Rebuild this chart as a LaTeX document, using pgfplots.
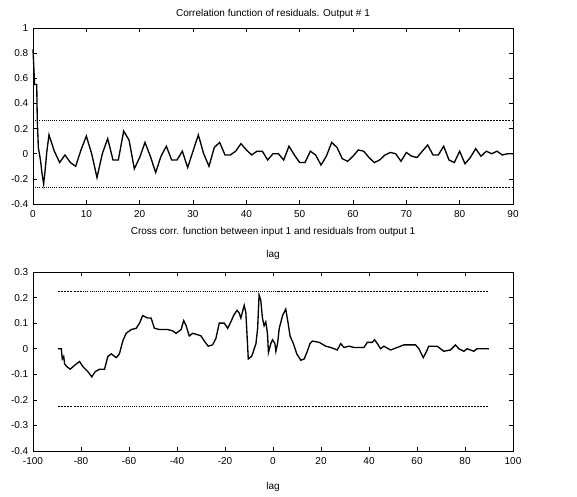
\documentclass[border=0pt]{standalone}
\usepackage{pgfplots}
\pgfplotsset{compat=1.18}
\usetikzlibrary{calc}
\usepackage{fontspec}
\setmainfont{Liberation Sans}
\begin{document}
\begin{tikzpicture}[font=\fontsize{7.5}{9}\selectfont]
\pgfplotsset{
  every axis/.append style={
    scale only axis,
    axis line style={line width=0.6pt},
    tick style={line width=0.5pt, black},
    major tick length=3pt,
    tick align=inside,
    xtick pos=both, ytick pos=both,
    tick label style={font=\fontsize{7.5}{9}\selectfont},
    xticklabel style={yshift=-1pt},
    /pgf/number format/assume math mode=true,
    clip=false,
  },
  resid/.style={black, line width=1pt, mark=none},
  band/.style={black, line width=0.6pt, densely dotted, mark=none},
  bandd/.style={black, line width=0.6pt, dash pattern=on 1.5pt off 0.8pt, mark=none},
}
% ---- top: auto correlation of residuals
\begin{axis}[name=top, at={(0,0)}, anchor=south west,
  width=360pt, height=132pt,
  xmin=0, xmax=90, ymin=-0.4, ymax=1,
  xtick={0,10,...,90}, ytick={-0.4,-0.2,0,0.2,0.4,0.6,0.8,1},
]
\addplot[band] coordinates {(0,0.265) (65,0.265)};
\addplot[bandd] coordinates {(65,0.265) (90,0.265)};
\addplot[band] coordinates {(0,-0.27) (65,-0.27)};
\addplot[bandd] coordinates {(65,-0.27) (90,-0.27)};
\addplot[resid] coordinates {
(0,0.83) (0.3,0.55) (0.7,0.55) (0.8,0.27) (1,0.05) (1.4,-0.05) (1.7,-0.16) (2,-0.24) (2.3,-0.12)
(2.6,0.02) (3,0.15) (4,0.02) (5,-0.07) (6,-0.01) (7,-0.07) (8,-0.10) (9,0.03)
(10,0.14) (11,0.0) (12,-0.19) (13,0.0) (14,0.12) (15,-0.05) (16,-0.05) (17,0.18)
(18,0.11) (19,-0.12) (20,-0.03) (21,0.09) (22,-0.02) (23,-0.15) (24,-0.02) (25,0.06)
(26,-0.05) (27,-0.05) (28,0.02) (29,-0.11) (30,0.02) (31,0.15) (32,0.0) (33,-0.10)
(34,0.05) (35,0.09) (36,-0.01) (37,-0.01) (38,0.02) (39,0.08) (40,0.03) (41,-0.01)
(42,0.02) (43,0.02) (44,-0.05) (45,0.0) (46,0.0) (47,-0.05) (48,0.06) (49,-0.01)
(50,-0.07) (51,-0.07) (52,0.02) (53,-0.01) (54,-0.09) (55,-0.02) (56,0.09) (57,0.05)
(58,-0.04) (59,-0.06) (60,-0.02) (61,0.03) (62,0.02) (63,-0.03) (64,-0.07) (65,-0.05)
(66,-0.01) (67,0.01) (68,0.0) (69,-0.06) (70,0.01) (71,-0.02) (72,-0.03) (73,0.02)
(74,0.07) (75,-0.01) (76,-0.01) (77,0.06) (78,-0.05) (79,-0.07) (80,0.02) (81,-0.08)
(82,-0.03) (83,0.04) (84,-0.02) (85,0.02) (86,0.0) (87,0.02) (88,-0.01) (89,0.0) (90,0.0)
};
\end{axis}
\node at ($(top.north)+(0,10.5pt)$) {Correlation function of residuals. Output \# 1};
\node at ($(top.south)+(0,-21pt)$) {Cross corr. function between input 1 and residuals from output 1};
\node at ($(top.south)+(0,-38pt)$) {lag};
% ---- bottom: cross correlation input/residuals
\begin{axis}[name=bot, at={(0,-185.25pt)}, anchor=south west,
  width=360pt, height=134.25pt,
  xmin=-100, xmax=100, ymin=-0.4, ymax=0.3,
  xtick={-100,-80,...,100}, ytick={-0.4,-0.3,...,0.3},
  yticklabel style={/pgf/number format/fixed},
]
\addplot[bandd] coordinates {(-89.5,0.225) (-80,0.225)};
\addplot[band] coordinates {(-80,0.225) (2,0.225)};
\addplot[bandd] coordinates {(2,0.225) (90,0.225)};
\addplot[bandd] coordinates {(-89.5,-0.225) (-80,-0.225)};
\addplot[band] coordinates {(-80,-0.225) (2,-0.225)};
\addplot[bandd] coordinates {(2,-0.225) (90,-0.225)};
\addplot[resid] coordinates {
(-89.6,0.0) (-88.2,0.0) (-87.8,-0.04) (-87.2,-0.03) (-86.8,-0.06) (-85.9,-0.07) (-84.5,-0.08)
(-82.7,-0.065) (-80.6,-0.05) (-79.2,-0.07) (-77.1,-0.09) (-75.5,-0.11) (-74.1,-0.09)
(-72.3,-0.08) (-70.2,-0.08) (-68.8,-0.03) (-67.4,-0.02) (-65.3,-0.035) (-64.0,-0.02)
(-62.6,0.03) (-61.2,0.06) (-59.1,0.075) (-57.0,0.08) (-55.6,0.1) (-54.3,0.13) (-52.2,0.12)
(-50.8,0.12) (-49.4,0.08) (-47.3,0.075) (-43.9,0.075) (-41.8,0.07) (-40.4,0.06) (-38.3,0.075)
(-37.2,0.11) (-36.2,0.09) (-34.9,0.05) (-33.5,0.06) (-31.4,0.055) (-30.0,0.05) (-28.6,0.03)
(-27.0,0.01) (-25.2,0.015) (-23.8,0.04) (-22.4,0.1) (-20.3,0.1) (-18.9,0.08) (-17.8,0.1)
(-16.4,0.13) (-15.0,0.15) (-14.1,0.14) (-13.4,0.12) (-12.0,0.17) (-11.3,0.14) (-10.3,-0.04)
(-8.9,-0.03) (-7.8,0.0) (-7.1,0.02) (-6.4,0.08) (-5.8,0.21) (-5.1,0.19) (-4.4,0.12)
(-3.7,0.09) (-3.0,0.105) (-2.3,0.06) (-1.9,-0.015) (-0.9,0.02) (-0.2,0.035) (0.8,0.02)
(1.2,-0.01) (1.9,0.02) (2.6,0.08) (4.0,0.13) (5.3,0.155) (6.3,0.1) (7.1,0.05) (8.5,0.02)
(9.9,-0.02) (11.6,-0.045) (13.0,-0.04) (14.3,-0.01) (15.4,0.02) (16.4,0.03) (19.2,0.025)
(22.0,0.01) (24.0,0.005) (26.8,-0.005) (28.2,0.02) (29.6,0.005) (31.7,0.01) (33.7,0.005)
(37.9,0.005) (39.3,0.025) (41.4,0.025) (42.3,0.035) (43.5,0.02) (44.8,0.0) (46.2,0.01)
(49.0,-0.005) (51.8,0.005) (54.5,0.015) (59.4,0.015) (60.8,0.0) (62.6,-0.035) (64.0,-0.01)
(64.9,0.01) (68.4,0.01) (71.2,-0.01) (73.9,-0.005) (76.0,0.015) (77.4,0.0) (79.5,-0.01)
(80.9,0.0) (83.7,-0.01) (85.0,0.0) (89.9,0.0)
};
\end{axis}
\node at ($(bot.south)+(0,-27pt)$) {lag};
\path (-24.75pt,-218.25pt) rectangle (408pt,153pt);
\end{tikzpicture}
\end{document}
